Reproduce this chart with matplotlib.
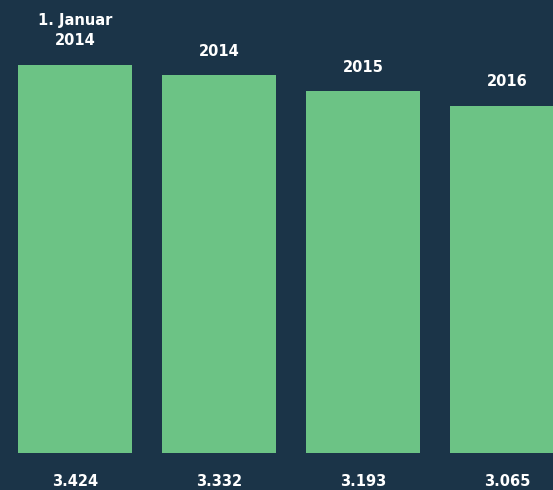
import matplotlib
matplotlib.use('Agg')
import matplotlib.pyplot as plt

categories = ['1. Januar\n2014', '2014', '2015', '2016']
values = [3424, 3332, 3193, 3065]
value_labels = ['3.424', '3.332', '3.193', '3.065']

bg = '#1b3448'
green = '#6cc385'

fig = plt.figure(figsize=(5.53, 4.90), dpi=100, facecolor=bg)
ax = fig.add_axes([0, 0, 1, 1], facecolor=bg)

x = range(len(values))
ax.bar(x, values, width=0.79, color=green)

# category labels above bars, values below the baseline
for i, (c, v, lab) in enumerate(zip(categories, values, value_labels)):
    ax.annotate(c, xy=(i, v), xytext=(0, 12), textcoords='offset points',
                ha='center', va='bottom', color='white', fontweight='bold',
                fontsize=10.5, linespacing=1.45)
    ax.annotate(lab, xy=(i, 0), xytext=(0, -20.5), textcoords='offset points',
                ha='center', va='center', color='white', fontweight='bold',
                fontsize=10.5)

ax.set_xlim(-75 / 144, 478 / 144)
ax.set_ylim(-37 / (388 / 3424), 453 / (388 / 3424))
ax.axis('off')

plt.savefig('out.png', facecolor=bg)
